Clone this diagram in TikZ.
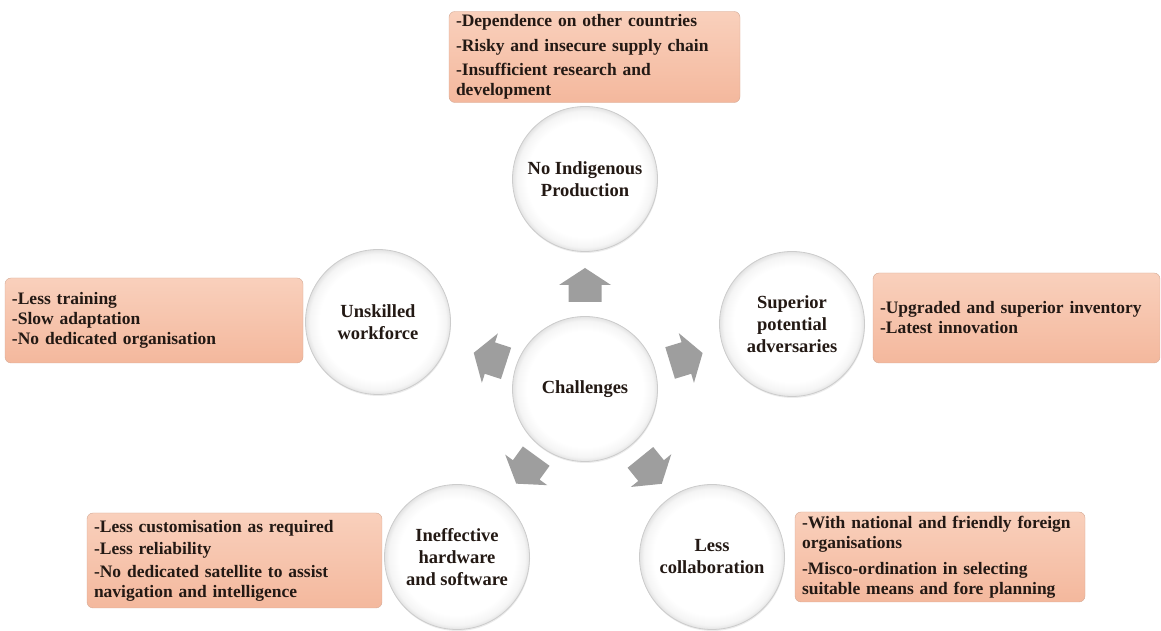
\documentclass[tikz,border=0pt]{standalone}
\usepackage{fontspec}
\setmainfont{Liberation Serif}
\usetikzlibrary{shadows}

\definecolor{peachtop}{RGB}{249,208,188}
\definecolor{peachbot}{RGB}{244,184,157}
\definecolor{peachline}{RGB}{212,170,150}
\definecolor{ink}{RGB}{35,25,20}

% white disc with a soft grey rim
\pgfdeclareradialshading{rim}{\pgfpoint{0bp}{0bp}}{color(0bp)=(white); color(20bp)=(white); color(23.5bp)=(black!4); color(25bp)=(black!11); color(50bp)=(black!11)}

\begin{document}
\begin{tikzpicture}[x=1pt, y=1pt]
		\tikzstyle{Topic}  = [circle, draw=black!20, line width=0.8pt, shading=rim, minimum size=145pt, inner sep=1pt, align=center, text=ink, font=\fontsize{18.5}{22}\selectfont\bfseries, drop shadow={shadow xshift=0.5pt, shadow yshift=-1.5pt, opacity=0.15}]
		\tikzstyle{Points} = [rectangle, rounded corners=6pt, draw=peachline, top color=peachtop, bottom color=peachbot, inner xsep=7pt, align=left, text=ink, font=\fontsize{17.5}{20}\selectfont\bfseries]
		\tikzstyle{Push}   = [fill=black!38]

		\useasboundingbox (0,0) rectangle (1161,631);

		% topics
		\node (ch)   at (585,242) [Topic] {Challenges};
		\node (prod) at (585,452) [Topic] {No Indigenous\\Production};
		\node (work) at (378,309) [Topic] {Unskilled\\workforce};
		\node (adv)  at (792,307) [Topic] {Superior\\potential\\adversaries};
		\node (hw)   at (457,74)  [Topic] {Ineffective\\hardware\\and software};
		\node (coll) at (712,74)  [Topic] {Less\\collaboration};

		% block arrows from the centre outwards
		\foreach \a/\d in {90/104, 17/106, 162/100, -126/100, -51/105}
			\fill [Push, shift={(ch.center)}, rotate=\a, xshift=\d] (-17,-16.5) -- (0,-16.5) -- (0,-26) -- (17,0) -- (0,26) -- (0,16.5) -- (-17,16.5) -- cycle;

		% lists of points
		\node (prodpts) at (594.5,574) [Points, minimum width=291pt, minimum height=90pt, text width=277pt]
			{-Dependence on other countries\\[4.5pt]-Risky and insecure supply chain\\[4pt]-Insufficient research and\\development};
		\node (workpts) at (154,310.5) [Points, minimum width=298pt, minimum height=85pt, text width=284pt]
			{-Less training\\-Slow adaptation\\-No dedicated organisation};
		\node (advpts) at (1016.5,313) [Points, minimum width=287pt, minimum height=90pt, text width=273pt]
			{-Upgraded and superior inventory\\-Latest innovation};
		\node (hwpts) at (234.5,70.5) [Points, minimum width=295pt, minimum height=95pt, text width=281pt]
			{-Less customisation as required\\[2.5pt]-Less reliability\\[2.5pt]-No dedicated satellite to assist\\navigation and intelligence};
		\node (collpts) at (940,74) [Points, minimum width=290pt, minimum height=90pt, text width=276pt]
			{-With national and friendly foreign\\organisations\\[6pt]-Misco-ordination in selecting\\suitable means and fore planning};
	\end{tikzpicture}
\end{document}
